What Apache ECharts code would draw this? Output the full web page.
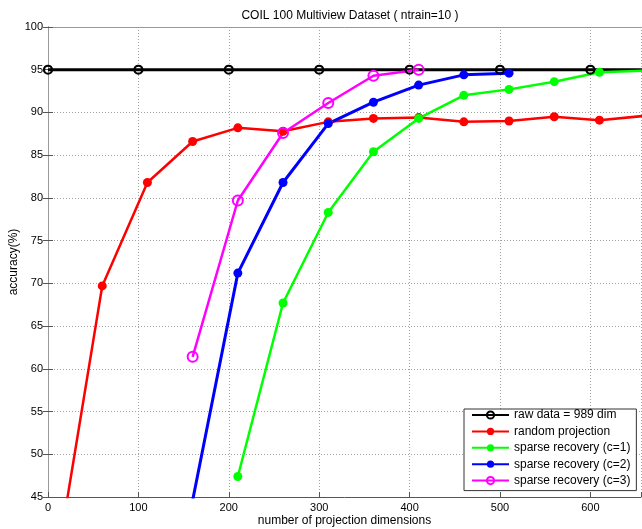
<!DOCTYPE html>
<html>
<head>
<meta charset="utf-8">
<script src="https://cdn.jsdelivr.net/npm/echarts@6/dist/echarts.min.js"></script>
<style>
  html, body { margin: 0; padding: 0; background: #fff; }
  #chart { width: 642px; height: 529px; }
</style>
</head>
<body>
<div id="chart"></div>
<script>
// values
const rawDims = [0, 100, 200, 300, 400, 500, 600, 700];
const rawAcc = [95, 95, 95, 95, 95, 95, 95, 95];

const randDims = [10, 60, 110, 160, 210, 260, 310, 360, 410, 460, 510, 560, 610, 660];
const randAcc = [37.5, 69.7, 81.8, 86.6, 88.2, 87.8, 88.9, 89.3, 89.4, 88.9, 89.0, 89.5, 89.1, 89.6];

const c1Dims = [210, 260, 310, 360, 410, 460, 510, 560, 610, 660];
const c1Acc = [47.4, 67.7, 78.3, 85.4, 89.3, 92.0, 92.7, 93.6, 94.7, 94.9];

const c2Dims = [160, 210, 260, 310, 360, 410, 460, 510];
const c2Acc = [44.6, 71.2, 81.8, 88.7, 91.2, 93.2, 94.4, 94.6];

const c3Dims = [160, 210, 260, 310, 360, 410];
const c3Acc = [61.4, 79.7, 87.6, 91.1, 94.3, 95.0];

const names = [
  'raw data = 989 dim',
  'random projection',
  'sparse recovery (c=1)',
  'sparse recovery (c=2)',
  'sparse recovery (c=3)'
];

const FONT = '"Liberation Sans", Arial, sans-serif';
const zip = (xs, ys) => xs.map((x, i) => [x, ys[i]]);

const gridLine = { show: true, lineStyle: { color: '#a0a0a0', type: [1, 2], width: 1 } };
const axisLine = { show: true, lineStyle: { color: '#555', width: 1 } };
const tick = { show: true, inside: true, length: 5, lineStyle: { color: '#555' } };

function lineSeries(name, data, color, opts = {}) {
  return {
    name,
    type: 'line',
    data,
    clip: true,
    symbol: opts.symbol || 'circle',
    symbolSize: opts.size || 9,
    lineStyle: { color, width: opts.width || 2.5 },
    itemStyle: {
      color: opts.fill || color,
      borderColor: color,
      borderWidth: opts.border || 0
    },
    emphasis: { disabled: true },
    animation: false
  };
}

const chart = echarts.init(document.getElementById('chart'));
chart.setOption({
  backgroundColor: '#fff',
  animation: false,
  title: {
    text: 'COIL 100 Multiview Dataset ( ntrain=10 )',
    left: 345,
    top: 5,
    textAlign: 'center',
    textStyle: { fontFamily: FONT, fontSize: 12, fontWeight: 'normal', color: '#000' }
  },
  grid: { left: 48, right: 1, top: 27, bottom: 32, outerBoundsMode: 'none' },
  legend: {
    orient: 'vertical',
    left: 464,
    top: 409,
    padding: [0, 6, 4, 7],
    itemGap: 4.4,
    itemWidth: 37,
    itemHeight: 9,
    itemTextGap: 4,
    backgroundColor: '#fff',
    borderColor: '#333',
    borderWidth: 1,
    borderRadius: 0,
    textStyle: { fontFamily: FONT, fontSize: 12, color: '#000', lineHeight: 12 },
    data: names
  },
  xAxis: [
    {
      type: 'value',
      min: 0,
      max: 656,
      interval: 100,
      name: 'number of projection dimensions',
      nameLocation: 'middle',
      nameGap: 18,
      nameMoveOverlap: false,
      nameTextStyle: { fontFamily: FONT, fontSize: 12, color: '#000' },
      axisLine,
      axisTick: tick,
      splitLine: gridLine,
      axisLabel: {
        margin: 5,
        fontFamily: FONT,
        fontSize: 11,
        color: '#000',
        formatter: (v) => (v % 100 === 0 ? String(v) : '')
      }
    },
    {
      type: 'value',
      position: 'top',
      min: 0,
      max: 656,
      interval: 100,
      axisLine: { show: true, lineStyle: { color: '#999', width: 1 } },
      axisTick: { show: false },
      axisLabel: { show: false },
      splitLine: { show: false }
    }
  ],
  yAxis: [
    {
      type: 'value',
      min: 45,
      max: 100,
      interval: 5,
      name: 'accuracy(%)',
      nameLocation: 'middle',
      nameGap: 28,
      nameMoveOverlap: false,
      nameTextStyle: { fontFamily: FONT, fontSize: 12, color: '#000' },
      axisLine,
      axisTick: tick,
      splitLine: gridLine,
      axisLabel: { margin: 5, fontFamily: FONT, fontSize: 11, color: '#000' }
    },
    {
      type: 'value',
      position: 'right',
      min: 45,
      max: 100,
      interval: 5,
      axisLine: { show: true, lineStyle: { color: '#999', width: 1 } },
      axisTick: tick,
      axisLabel: { show: false },
      splitLine: { show: false }
    }
  ],
  series: [
    lineSeries(names[0], zip(rawDims, rawAcc), '#000000', {
      symbol: 'circle', size: 8, width: 3, fill: 'transparent', border: 2.2
    }),
    lineSeries(names[1], zip(randDims, randAcc), '#ff0000'),
    lineSeries(names[2], zip(c1Dims, c1Acc), '#00ff00'),
    lineSeries(names[3], zip(c2Dims, c2Acc), '#0000ff', { width: 3 }),
    lineSeries(names[4], zip(c3Dims, c3Acc), '#ff00ff', {
      symbol: 'circle', size: 10, width: 2.5, fill: 'transparent', border: 2
    })
  ]
});
</script>
</body>
</html>
